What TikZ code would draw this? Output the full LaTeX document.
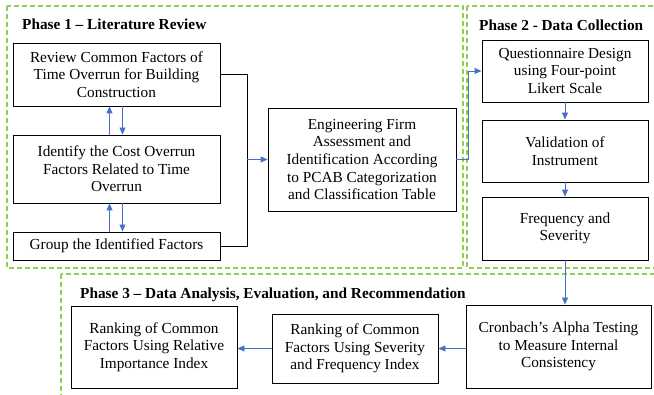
\documentclass[tikz,border=0pt]{standalone}
\usepackage{fontspec}
\setmainfont{Liberation Serif}
\usetikzlibrary{arrows.meta}
\definecolor{phasegreen}{RGB}{146,208,80}
\definecolor{flowblue}{RGB}{68,114,196}

\begin{document}
\begin{tikzpicture}[x=1pt, y=-1pt,
    box/.style={draw, line width=0.9pt, align=center, inner sep=0pt,
      font=\fontsize{15.3}{17.6}\selectfont},
    phase/.style={draw=phasegreen, line width=1.1pt, dash pattern=on 5pt off 3pt},
    title/.style={anchor=west, inner sep=0pt, font=\fontsize{15.3}{17.6}\selectfont\bfseries},
    flow/.style={draw=flowblue, line width=0.9pt, -{Triangle[length=7pt,width=6pt]}},
    link/.style={draw, line width=0.9pt}]
  \useasboundingbox (0,0) rectangle (654,395);
  \clip (0,0) rectangle (654,395);

  % phase frames
  \draw[phase] (7,6) rectangle (463,268);
  \draw[phase] (467,6) rectangle (670,268);
  \draw[phase] (61,274) rectangle (670,410);

  \node[title] (phaseone) at (22,24) {Phase 1 – Literature Review};
  \node[title] (phasetwo) at (479,25) {Phase 2 - Data Collection};
  \node[title] (phasethree) at (80,295) {Phase 3 – Data Analysis, Evaluation, and Recommendation};

  % phase 1
  \node[box, minimum width=207pt, minimum height=63pt] (review) at (116.5,74.5)
    {Review Common Factors of\\Time Overrun for Building\\Construction};
  \node[box, minimum width=207pt, minimum height=68pt] (identify) at (116.5,169)
    {Identify the Cost Overrun\\Factors Related to Time\\Overrun};
  \node[box, minimum width=207pt, minimum height=28pt] (group) at (116.5,246)
    {Group the Identified Factors};
  \node[box, minimum width=188pt, minimum height=103pt] (firm) at (362,159.5)
    {Engineering Firm\\Assessment and\\Identification According\\to PCAB Categorization\\and Classification Table};

  % phase 2
  \node[box, minimum width=166pt, minimum height=62pt] (design) at (565,71)
    {Questionnaire Design\\using Four-point\\Likert Scale};
  \node[box, minimum width=166pt, minimum height=62pt] (validation) at (565,151)
    {Validation of\\Instrument};
  \node[box, minimum width=166pt, minimum height=63pt] (frequency) at (565,228.5)
    {Frequency and\\Severity};

  % phase 3
  \node[box, minimum width=185pt, minimum height=83pt] (cronbach) at (558.5,346.5)
    {Cronbach’s Alpha Testing\\to Measure Internal\\Consistency};
  \node[box, minimum width=166pt, minimum height=69pt] (rankingsfi) at (355,348.5)
    {Ranking of Common\\Factors Using Severity\\and Frequency Index};
  \node[box, minimum width=166pt, minimum height=82pt] (rankingrii) at (154,347)
    {Ranking of Common\\Factors Using Relative\\Importance Index};

  \coordinate (merge) at (247,0);

  \draw[flow] ([xshift=-7pt]identify.north) -- ([xshift=-7pt]review.south);
  \draw[flow] ([xshift=6pt]review.south) -- ([xshift=6pt]identify.north);
  \draw[flow] ([xshift=-7pt]group.north) -- ([xshift=-7pt]identify.south);
  \draw[flow] ([xshift=6pt]identify.south) -- ([xshift=6pt]group.north);
  \draw[link] (review.east) -| (merge |- group.east) -- (group.east);
  \draw[flow] (merge |- firm.west) -- (firm.west);
  \draw[flow] (firm.east) -- ++(12,0) |- (design.west);
  \draw[flow] (design) -- (validation);
  \draw[flow] (validation) -- (frequency);
  \draw[flow] (frequency.south) -- (frequency.south |- cronbach.north);
  \draw[flow] (rankingsfi.east -| cronbach.west) -- (rankingsfi.east);
  \draw[flow] (rankingsfi.west) -- (rankingsfi.west -| rankingrii.east);
\end{tikzpicture}
\end{document}
